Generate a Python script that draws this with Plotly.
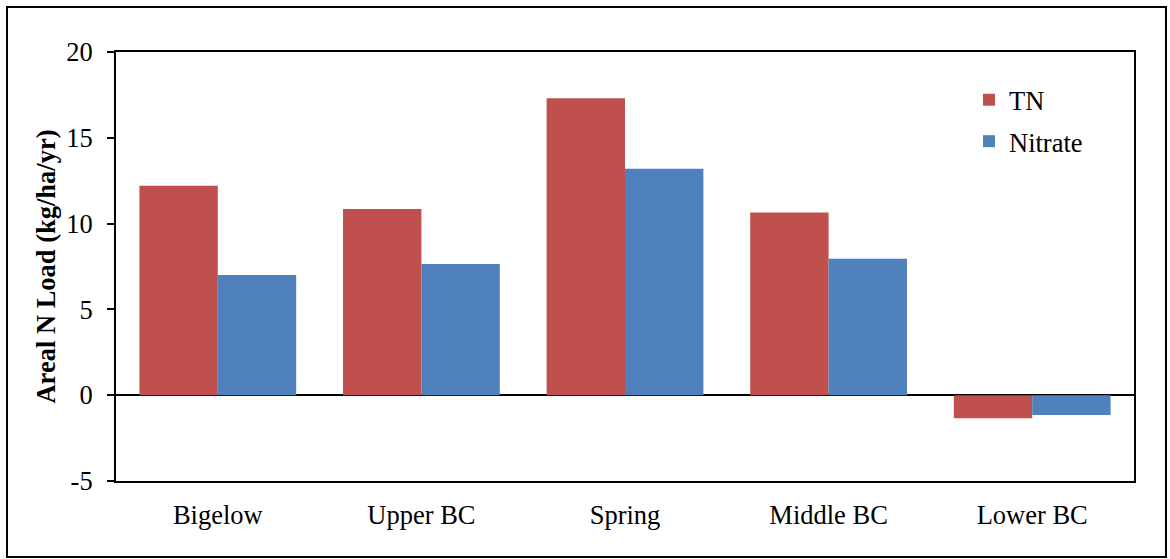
import plotly.graph_objects as go

sites = ["Bigelow", "Upper BC", "Spring", "Middle BC", "Lower BC"]
tn_load = [12.2, 10.85, 17.3, 10.65, -1.35]
nitrate_load = [7.0, 7.65, 13.2, 7.95, -1.15]
y_ticks = [-5, 0, 5, 10, 15, 20]
y_tick_text = ["-5", "0", "5", "10", "15", "20"]

FONT = "Liberation Serif"
FS = 26.5

fig = go.Figure()
fig.add_trace(go.Bar(x=sites, y=tn_load, name="TN", legendgroup="tn",
                     marker=dict(color="#C0504D", line=dict(width=0))))
fig.add_trace(go.Bar(x=sites, y=nitrate_load, name="Nitrate", legendgroup="no3",
                     marker=dict(color="#4F81BD", line=dict(width=0))))

fig.update_layout(
    width=1170, height=559,
    margin=dict(l=116, r=36, t=52, b=78),
    paper_bgcolor="white", plot_bgcolor="white",
    font=dict(family=FONT, size=FS, color="black"),
    barmode="group", bargap=0.23, bargroupgap=0,
    showlegend=True,
    legend=dict(x=(969 - 116) / 1018, y=(481 - 76) / 429, xanchor="left", yanchor="top",
                bgcolor="rgba(0,0,0,0)", tracegroupgap=4,
                font=dict(family=FONT, size=FS), itemwidth=30),
    xaxis=dict(showline=True, linecolor="black", linewidth=2, mirror=True,
               ticks="", showgrid=False, tickfont=dict(family=FONT, size=FS),
               ticklabelstandoff=9),
    yaxis=dict(range=[-5, 20], tickvals=y_ticks, ticktext=y_tick_text,
               showline=True, linecolor="black",
               linewidth=2, mirror=True, ticks="outside", ticklen=7, tickwidth=2,
               tickcolor="black", showgrid=False, zeroline=True, zerolinecolor="black",
               zerolinewidth=2, tickfont=dict(family=FONT, size=FS), ticklabelstandoff=9,
               title=dict(text="<b>Areal N Load (kg/ha/yr)</b>",
                          font=dict(family=FONT, size=FS), standoff=3)),
    shapes=[dict(type="rect", xref="paper", yref="paper",
                 x0=-109/1018, x1=1+32/1018, y0=-76/429, y1=1+45/429,
                 line=dict(color="black", width=2), fillcolor="rgba(0,0,0,0)")],
)

fig.write_html("out.html")
